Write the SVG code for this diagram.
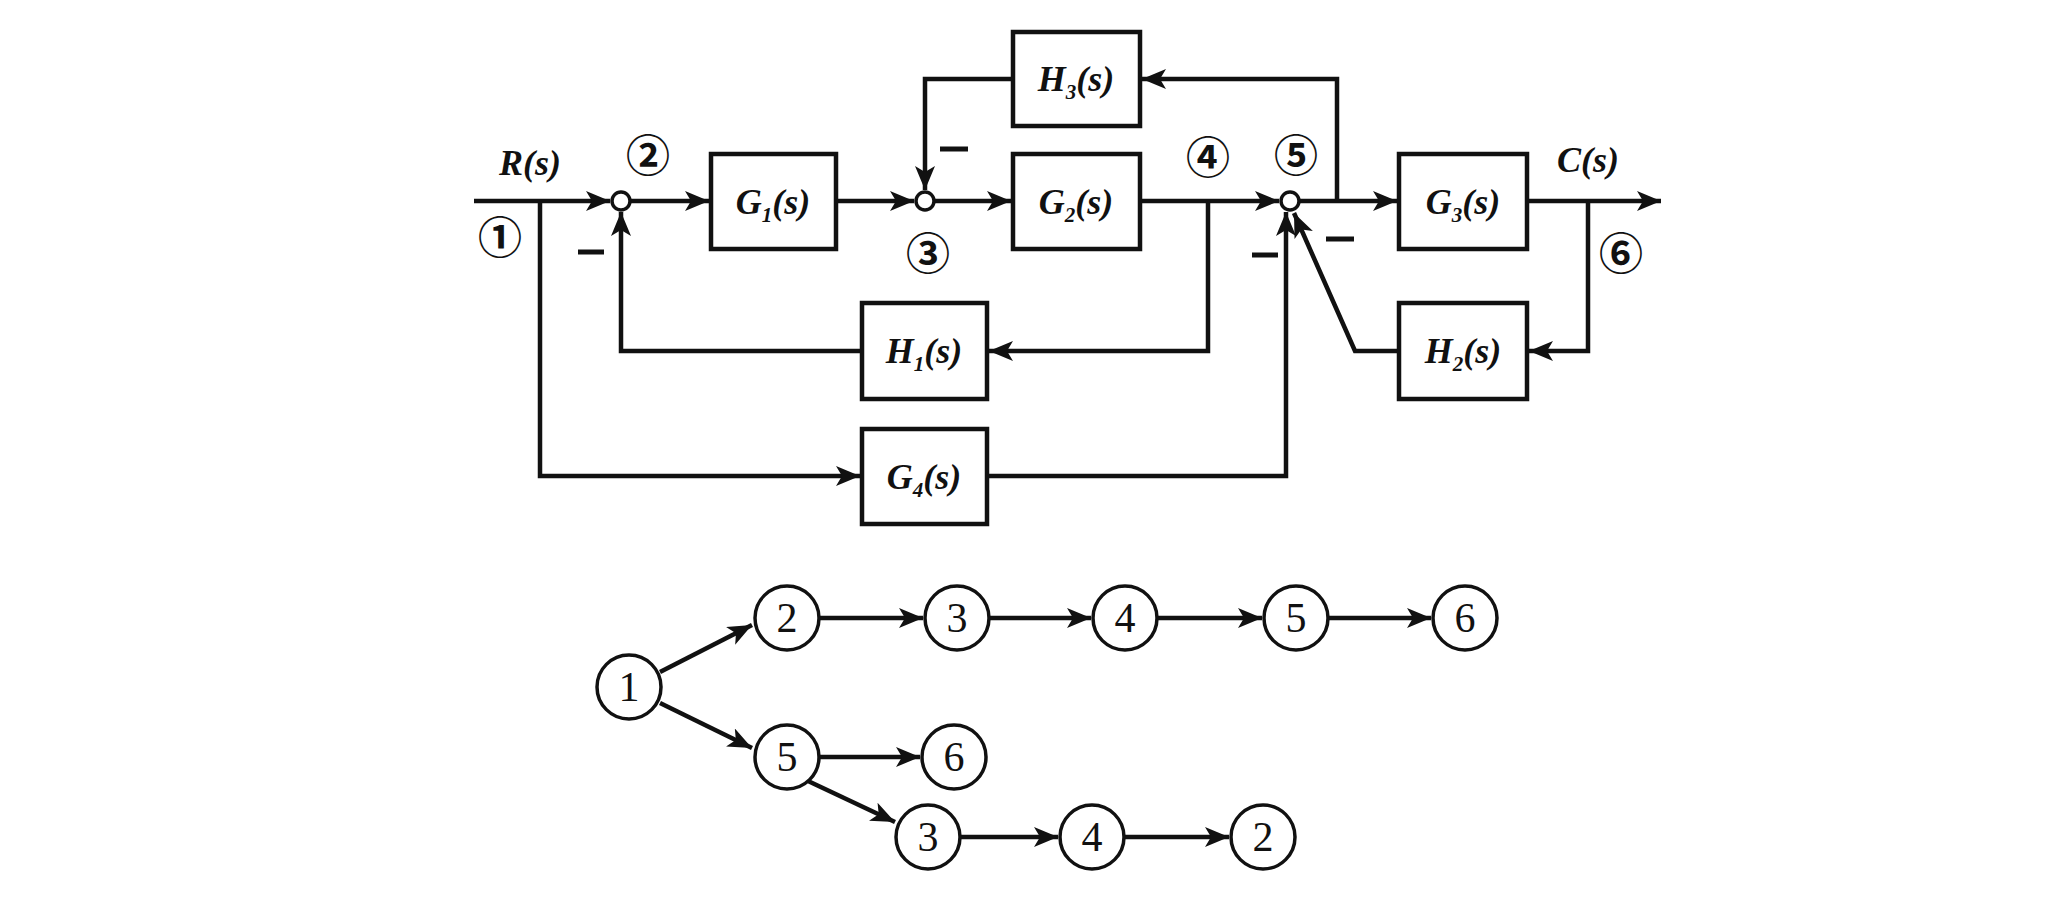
<svg xmlns="http://www.w3.org/2000/svg" width="2063" height="918" viewBox="0 0 2063 918">
<defs>
<marker id="a" viewBox="0 0 12 10" refX="12" refY="5" markerWidth="24" markerHeight="20" markerUnits="userSpaceOnUse" orient="auto"><path d="M0,0 L12,5 L0,10 L3,5 Z" fill="#111"/></marker>
<style>
.l{fill:none;stroke:#111;stroke-width:4.5}
.b{fill:#fff;stroke:#111;stroke-width:4.5}
.j{fill:#fff;stroke:#111;stroke-width:3.5}
.t{font-family:"Liberation Serif",serif;font-style:italic;font-weight:bold;font-size:36px;fill:#111;text-anchor:middle}
.s{font-size:21px}
.c{font-family:"Noto Sans CJK SC","DejaVu Sans",sans-serif;font-weight:bold;font-size:44px;fill:#111;text-anchor:middle}
.n{font-family:"Liberation Serif",serif;font-size:42px;fill:#111;text-anchor:middle}
.m{stroke:#111;stroke-width:5}
</style>
</defs>
<rect width="2063" height="918" fill="#fff"/>
<g id="connectors">
<path class="l" d="M474,201 H610" marker-end="url(#a)"/>
<path class="l" d="M630,201 H709" marker-end="url(#a)"/>
<path class="l" d="M836,201 H914" marker-end="url(#a)"/>
<path class="l" d="M934,201 H1011" marker-end="url(#a)"/>
<path class="l" d="M1140,201 H1279" marker-end="url(#a)"/>
<path class="l" d="M1299,201 H1397" marker-end="url(#a)"/>
<path class="l" d="M1527,201 H1661" marker-end="url(#a)"/>
<path class="l" d="M1337,201 V79 H1142" marker-end="url(#a)"/>
<path class="l" d="M1013,79 H925 V190" marker-end="url(#a)"/>
<path class="l" d="M1208,201 V351 H989" marker-end="url(#a)"/>
<path class="l" d="M862,351 H621 V212" marker-end="url(#a)"/>
<path class="l" d="M1588,201 V351 H1529" marker-end="url(#a)"/>
<path class="l" d="M1399,351 H1355 L1294,213" marker-end="url(#a)"/>
<path class="l" d="M540,201 V476 H860" marker-end="url(#a)"/>
<path class="l" d="M987,476 H1286 V212" marker-end="url(#a)"/>
<line class="m" x1="940" y1="149" x2="968" y2="149"/>
<line class="m" x1="578" y1="252" x2="604" y2="252"/>
<line class="m" x1="1252" y1="255" x2="1278" y2="255"/>
<line class="m" x1="1326" y1="239" x2="1354" y2="239"/>
<path class="l" d="M660,672 L752,625" marker-end="url(#a)"/>
<path class="l" d="M660,703 L752,748" marker-end="url(#a)"/>
<path class="l" d="M819,618 H923" marker-end="url(#a)"/>
<path class="l" d="M989,618 H1091" marker-end="url(#a)"/>
<path class="l" d="M1157,618 H1262" marker-end="url(#a)"/>
<path class="l" d="M1328,618 H1431" marker-end="url(#a)"/>
<path class="l" d="M819,757 H920" marker-end="url(#a)"/>
<path class="l" d="M808,781 L895,822" marker-end="url(#a)"/>
<path class="l" d="M960,837 H1058" marker-end="url(#a)"/>
<path class="l" d="M1124,837 H1229" marker-end="url(#a)"/>
</g>
<g id="j2"><circle class="j" cx="621" cy="201" r="9"/></g>
<g id="j3"><circle class="j" cx="925" cy="201" r="9"/></g>
<g id="j5"><circle class="j" cx="1290" cy="201" r="9"/></g>
<g id="G1"><rect class="b" x="711" y="154" width="125" height="95"/><text class="t" x="773" y="214">G<tspan class="s" dy="8">1</tspan><tspan dy="-8">(s)</tspan></text></g>
<g id="G2"><rect class="b" x="1013" y="154" width="127" height="95"/><text class="t" x="1076" y="214">G<tspan class="s" dy="8">2</tspan><tspan dy="-8">(s)</tspan></text></g>
<g id="H3"><rect class="b" x="1013" y="32" width="127" height="94"/><text class="t" x="1076" y="91">H<tspan class="s" dy="8">3</tspan><tspan dy="-8">(s)</tspan></text></g>
<g id="G3"><rect class="b" x="1399" y="154" width="128" height="95"/><text class="t" x="1463" y="214">G<tspan class="s" dy="8">3</tspan><tspan dy="-8">(s)</tspan></text></g>
<g id="H1"><rect class="b" x="862" y="303" width="125" height="96"/><text class="t" x="924" y="363">H<tspan class="s" dy="8">1</tspan><tspan dy="-8">(s)</tspan></text></g>
<g id="H2"><rect class="b" x="1399" y="303" width="128" height="96"/><text class="t" x="1463" y="363">H<tspan class="s" dy="8">2</tspan><tspan dy="-8">(s)</tspan></text></g>
<g id="G4"><rect class="b" x="862" y="429" width="125" height="95"/><text class="t" x="924" y="489">G<tspan class="s" dy="8">4</tspan><tspan dy="-8">(s)</tspan></text></g>
<g id="labels">
<text class="t" x="530" y="175">R(s)</text>
<text class="t" x="1588" y="172">C(s)</text>
<text class="c" x="500" y="254">①</text>
<text class="c" x="648" y="172">②</text>
<text class="c" x="928" y="270">③</text>
<text class="c" x="1208" y="174">④</text>
<text class="c" x="1296" y="172">⑤</text>
<text class="c" x="1621" y="270">⑥</text>
</g>
<g id="n1"><circle class="j" cx="629" cy="687" r="32"/><text class="n" x="629" y="701">1</text></g>
<g id="n2"><circle class="j" cx="787" cy="618" r="32"/><text class="n" x="787" y="632">2</text></g>
<g id="n3"><circle class="j" cx="957" cy="618" r="32"/><text class="n" x="957" y="632">3</text></g>
<g id="n4"><circle class="j" cx="1125" cy="618" r="32"/><text class="n" x="1125" y="632">4</text></g>
<g id="n5"><circle class="j" cx="1296" cy="618" r="32"/><text class="n" x="1296" y="632">5</text></g>
<g id="n6"><circle class="j" cx="1465" cy="618" r="32"/><text class="n" x="1465" y="632">6</text></g>
<g id="n5b"><circle class="j" cx="787" cy="757" r="32"/><text class="n" x="787" y="771">5</text></g>
<g id="n6b"><circle class="j" cx="954" cy="757" r="32"/><text class="n" x="954" y="771">6</text></g>
<g id="n3b"><circle class="j" cx="928" cy="837" r="32"/><text class="n" x="928" y="851">3</text></g>
<g id="n4b"><circle class="j" cx="1092" cy="837" r="32"/><text class="n" x="1092" y="851">4</text></g>
<g id="n2b"><circle class="j" cx="1263" cy="837" r="32"/><text class="n" x="1263" y="851">2</text></g>
</svg>
